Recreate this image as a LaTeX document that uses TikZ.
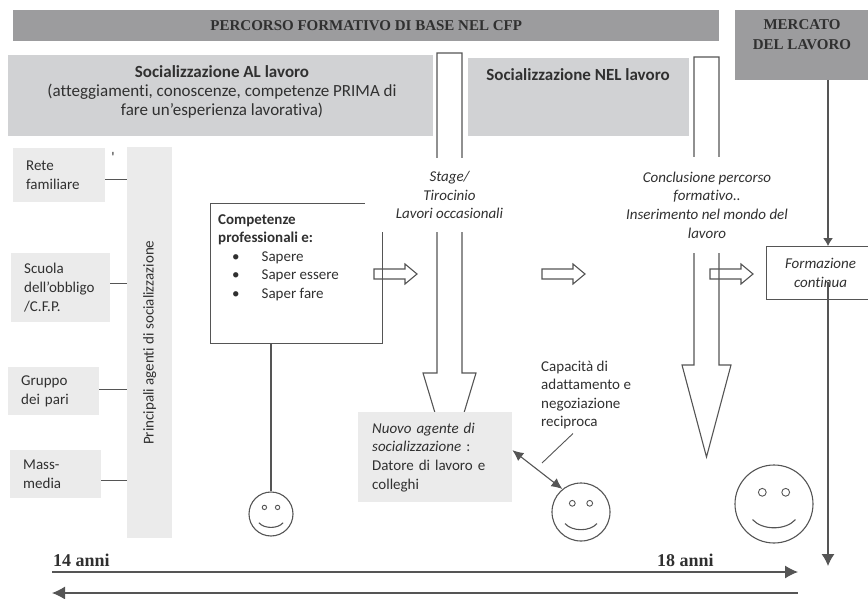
\documentclass[tikz,border=0pt]{standalone}
\usepackage{fontspec}
\setmainfont{Carlito}[Ligatures=NoCommon]
\newfontfamily\headfont{Liberation Serif}
\usetikzlibrary{arrows.meta, positioning}

\definecolor{bandgrey}{HTML}{9C9C9E}
\definecolor{panelgrey}{HTML}{D1D2D4}
\definecolor{agentgrey}{HTML}{EBEBEB}
\definecolor{linegrey}{HTML}{555555}
\definecolor{inkgrey}{HTML}{303030}

\tikzset{
  body/.style={font=\fontsize{15pt}{18.6pt}\selectfont, text=inkgrey},
  big/.style={font=\fontsize{17pt}{18.6pt}\selectfont, text=inkgrey},
  slant/.style={font=\fontsize{15pt}{18.6pt}\selectfont\itshape, text=inkgrey},
  head/.style={font=\headfont\bfseries\fontsize{15pt}{20pt}\selectfont, text=inkgrey},
  band/.style={fill=bandgrey, inner sep=0pt, anchor=north west},
  panel/.style={fill=panelgrey, inner sep=0pt, anchor=north west},
  agentbox/.style={body, fill=agentgrey, anchor=north west, align=left, inner xsep=13pt, inner ysep=0pt},
  cover/.style={slant, fill=white, align=center},
  hollow/.style={draw=linegrey, line width=1.1pt, line join=miter},
  link/.style={draw=linegrey, line width=1.1pt},
  face/.style={circle, draw=linegrey, line width=1.1pt, inner sep=0pt},
}

\begin{document}
\begin{tikzpicture}[x=1pt, y=-1pt, >={Latex[length=13pt,width=13pt]}]
  \useasboundingbox (0,0) rectangle (868,599);

  % bands and panels
  \node[band, head, minimum width=706pt, minimum height=31pt] (cfpband) at (13,10) {PERCORSO FORMATIVO DI BASE NEL CFP};
  \node[band, minimum width=135pt, minimum height=70pt] (mercato) at (735,10) {};
  \node[head, align=center] (mkttext) at (802,35) {MERCATO\\DEL LAVORO};
  \node[panel, minimum width=425pt, minimum height=81pt] (alpanel) at (8,55) {};
  \node[big, align=center] (altext) at (222,92) {\textbf{Socializzazione AL lavoro}\\(atteggiamenti, conoscenze, competenze PRIMA di\\fare un’esperienza lavorativa)};
  \node[panel, minimum width=221pt, minimum height=78pt] (nelpanel) at (468,58) {};
  \node[big, font=\fontsize{17pt}{18.6pt}\selectfont\bfseries] (neltext) at (578,75) {Socializzazione NEL lavoro};

  % agents
  \node[agentbox, text width=66pt, minimum height=54pt] (rete) at (13,148) {Rete\\familiare};
  \node[agentbox, text width=73pt, minimum height=69pt] (scuola) at (11,253) {Scuola\\dell’obbligo\\/C.F.P.};
  \node[agentbox, text width=65pt, minimum height=48pt] (gruppo) at (8,367) {Gruppo\\dei pari};
  \node[agentbox, text width=65pt, minimum height=48pt] (mass) at (10,450) {Mass-\\media};
  \node[agentbox, minimum width=45pt, minimum height=391pt, inner xsep=0pt] (agents) at (127,147) {};
  \node[body, rotate=90] (agentstext) at (agents.center) {Principali agenti di socializzazione};
  \node[body, inner sep=0pt] (tick) at (113,157) {\textquotesingle};
  \foreach \agent/\dy in {rete/-4pt, scuola/4.5pt, gruppo/2pt, mass/-6pt}{
    \path ([yshift=\dy]\agent.east) coordinate (\agent out);
    \draw[link] (\agent out) -- (\agent out -| agents.west);
  }

  % big hollow arrows
  \draw[hollow] (437,53) -- (437,373) -- (423,373) -- (449.5,461) -- (476,373) -- (462,373) -- (462,53) -- cycle;
  \draw[hollow] (694,57) -- (694,365) -- (682,365) -- (706.5,457) -- (731,365) -- (719,365) -- (719,57) -- cycle;

  % competenze
  \node[draw=linegrey, line width=1.1pt, anchor=north west, minimum width=172pt, minimum height=140pt] (comp) at (210,203) {};
  \node[body, align=left, anchor=north west, inner sep=0pt] (comptext) at (218,214)
    {\textbf{Competenze}\\\textbf{professionali e:}\\\hspace*{14pt}\textbullet\hspace{22pt}Sapere\\\hspace*{14pt}\textbullet\hspace{22pt}Saper essere\\\hspace*{14pt}\textbullet\hspace{22pt}Saper fare};

  \node[cover, minimum width=170pt, minimum height=74pt] (stage) at (449.5,195) {Stage/\\Tirocinio\\Lavori occasionali};
  \node[cover, minimum width=180pt, minimum height=95pt] (concl) at (707,205) {Conclusione percorso\\formativo..\\Inserimento nel mondo del\\lavoro};

  % small hollow arrows
  \foreach \ax in {374,542,710}
    \draw[hollow] (\ax,269) -- ++(31,0) -- ++(0,-5) -- ++(12,10) -- ++(-12,10) -- ++(0,-5) -- ++(-31,0) -- cycle;

  % formazione continua
  \node[draw=linegrey, line width=1.1pt, slant, align=center, anchor=north west, minimum width=108pt, minimum height=53pt] (formbox) at (766,246) {Formazione\\continua};
  \coordinate (mktfoot) at (828,80);
  \coordinate (formfoot) at (828,282);
  \coordinate (mktend) at (828,566);
  \draw[link, -{Latex[length=8pt,width=10pt]}] (mktfoot) -- (mktfoot |- formbox.north);
  \draw[link, ->, >={Latex[length=12pt,width=13pt]}] (formfoot) -- (mktend);

  % nuovo agente
  \node[agentbox, text width=126pt, inner xsep=14pt, minimum height=90pt] (nuovo) at (358,412)
    {\textit{Nuovo agente di}\\\textit{socializzazione} :\\Datore di lavoro e\\colleghi};
  \node[body, align=left, anchor=west, inner sep=0pt] (capac) at (541,395) {Capacità di\\adattamento e\\negoziazione\\reciproca};

  % faces
  \foreach \nm/\cx/\cy/\r in {faceA/271/514/22, faceB/581/512/29, faceC/774/504/39}{
    \node[face, minimum size=2*\r*1pt] (\nm) at (\cx,\cy) {};
    \draw[linegrey, line width=0.9pt] ([shift={(-0.3*\r,-0.3*\r)}]\nm.center) circle[radius=0.1*\r*1pt];
    \draw[linegrey, line width=0.9pt] ([shift={(0.3*\r,-0.3*\r)}]\nm.center) circle[radius=0.1*\r*1pt];
    \draw[linegrey, line width=1.1pt] ([shift={(-0.55*\r,0.4*\r)}]\nm.center) .. controls +(0.25*\r,0.28*\r) and +(-0.25*\r,0.28*\r) .. ([shift={(0.55*\r,0.4*\r)}]\nm.center);
  }
  \draw[link] (comp.south -| faceA) -- (faceA.north);
  \draw[link, <->, >={Latex[length=11pt,width=10pt]}] ([yshift=7pt]nuovo.east) -- (faceB.129);
  \coordinate (capfoot) at (542,463);
  \draw[link, line width=0.9pt] ([xshift=32pt,yshift=-4pt]capac.south west) -- (capfoot);

  % ages
  \node[head, font=\headfont\bfseries\fontsize{18pt}{20pt}\selectfont, anchor=west, inner sep=0pt] (age14) at (53,560) {14 anni};
  \node[head, font=\headfont\bfseries\fontsize{18pt}{20pt}\selectfont, anchor=west, inner sep=0pt] (age18) at (657,560) {18 anni};
  \coordinate (ageA) at (52,572);
  \coordinate (ageB) at (798,572);
  \coordinate (backA) at (52,593);
  \coordinate (backB) at (798,593);
  \draw[link, ->] (ageA) -- (ageB);
  \draw[link, <-] (backA) -- (backB);
\end{tikzpicture}
\end{document}
